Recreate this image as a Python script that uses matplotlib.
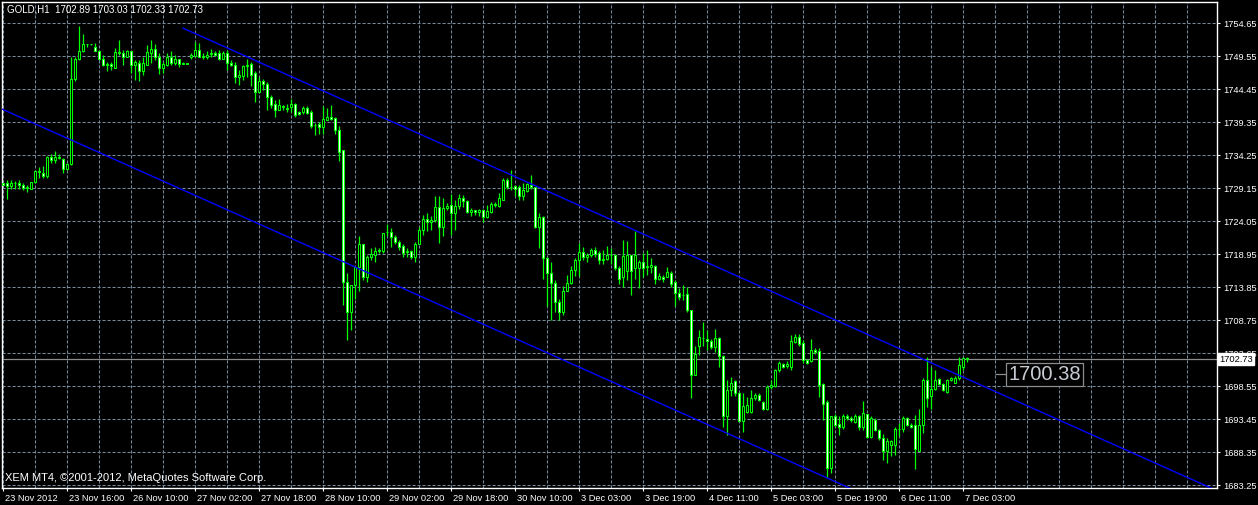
import matplotlib
matplotlib.use('Agg')
import matplotlib.pyplot as plt
from matplotlib.transforms import ScaledTranslation, blended_transform_factory

symbol = 'GOLD,H1'

opens = [1729.9, 1729.9, 1729.5, 1729.9, 1730.0, 1729.7, 1729.2, 1729.1, 1730.1, 1731.8,
         1731.5, 1731.0, 1734.0, 1733.5, 1734.0, 1733.6, 1732.1, 1732.9, 1746.0, 1749.2,
         1750.3, 1751.4, 1751.4, 1751.0, 1750.4, 1749.1, 1748.2, 1748.4, 1747.8, 1750.2,
         1750.1, 1749.5, 1750.3, 1748.2, 1748.5, 1747.3, 1748.2, 1750.1, 1750.6, 1749.5,
         1747.8, 1748.2, 1749.5, 1748.5, 1749.1, 1748.4, 1748.5, 1749.4, 1749.6, 1750.5,
         1749.5, 1749.4, 1749.9, 1750.0, 1750.0, 1749.1, 1750.1, 1748.5, 1748.2, 1746.4,
         1746.5, 1748.0, 1748.4, 1746.9, 1744.1, 1745.8, 1745.2, 1743.2, 1742.2, 1741.2,
         1741.8, 1741.6, 1741.7, 1742.2, 1740.9, 1741.0, 1741.5, 1740.9, 1738.9, 1739.1,
         1738.6, 1739.7, 1740.2, 1740.0, 1738.1, 1735.1, 1714.7, 1710.1, 1714.2, 1717.0,
         1720.5, 1715.5, 1718.6, 1718.8, 1719.4, 1719.4, 1722.4, 1722.4, 1721.6, 1720.9,
         1720.3, 1719.3, 1719.4, 1718.6, 1720.6, 1722.7, 1724.4, 1724.0, 1724.2, 1726.2,
         1723.1, 1726.1, 1726.5, 1725.3, 1726.4, 1727.6, 1727.2, 1725.5, 1725.8, 1725.5,
         1725.8, 1724.7, 1725.5, 1726.7, 1726.4, 1727.4, 1730.4, 1729.4, 1729.5, 1729.3,
         1727.9, 1728.8, 1729.6, 1729.4, 1723.1, 1724.7, 1718.3, 1716.1, 1714.5, 1711.6,
         1710.1, 1713.3, 1714.5, 1716.5, 1718.1, 1719.3, 1718.5, 1718.9, 1719.6, 1719.1,
         1718.1, 1718.2, 1718.8, 1718.9, 1716.8, 1715.4, 1716.4, 1718.8, 1716.8, 1716.8,
         1717.7, 1717.0, 1717.0, 1717.2, 1715.2, 1715.5, 1715.5, 1716.0, 1714.6, 1713.0,
         1712.6, 1712.8, 1710.4, 1700.3, 1704.7, 1706.0, 1705.8, 1705.6, 1704.6, 1706.0,
         1703.2, 1693.9, 1698.0, 1699.3, 1697.5, 1693.2, 1694.6, 1694.6, 1696.7, 1697.2,
         1696.1, 1695.0, 1698.5, 1698.6, 1701.0, 1702.0, 1701.7, 1701.6, 1705.4, 1706.1,
         1705.2, 1702.6, 1702.4, 1704.2, 1704.0, 1698.9, 1696.1, 1685.9, 1694.0, 1692.7,
         1692.2, 1693.9, 1693.6, 1693.1, 1693.9, 1692.2, 1694.3, 1690.7, 1693.4, 1691.8,
         1690.5, 1688.6, 1689.5, 1689.5, 1692.0, 1692.0, 1693.6, 1692.6, 1692.6, 1688.6,
         1692.6, 1699.5, 1697.0, 1698.1, 1699.6, 1698.9, 1697.7, 1699.5, 1699.1, 1699.8,
         1701.6, 1702.89]

highs = [1730.0, 1730.5, 1730.5, 1730.2, 1730.5, 1729.9, 1729.6, 1730.1, 1731.9, 1732.5,
         1732.6, 1734.1, 1734.5, 1734.9, 1734.5, 1733.8, 1733.0, 1749.5, 1749.5, 1754.2,
         1753.0, 1751.5, 1751.5, 1751.6, 1750.5, 1749.7, 1748.7, 1748.7, 1750.8, 1752.0,
         1750.5, 1750.5, 1750.3, 1749.0, 1749.0, 1749.5, 1751.3, 1752.1, 1751.5, 1750.0,
         1748.7, 1750.0, 1750.4, 1749.7, 1749.2, 1748.6, 1748.5, 1750.0, 1751.7, 1751.6,
         1750.0, 1750.3, 1750.6, 1750.3, 1750.5, 1750.3, 1750.5, 1749.0, 1748.6, 1747.4,
         1748.2, 1749.1, 1748.7, 1747.2, 1746.4, 1746.1, 1745.6, 1743.6, 1742.8, 1742.9,
         1742.0, 1742.2, 1742.9, 1742.3, 1741.1, 1741.8, 1741.9, 1741.2, 1739.2, 1739.4,
         1741.8, 1741.5, 1742.0, 1740.2, 1738.7, 1735.1, 1716.0, 1714.2, 1717.0, 1721.7,
         1720.5, 1718.8, 1719.9, 1720.1, 1719.9, 1722.3, 1723.7, 1723.0, 1721.9, 1721.1,
         1720.6, 1719.9, 1719.6, 1720.9, 1723.2, 1725.0, 1725.3, 1724.8, 1727.9, 1727.9,
         1727.6, 1726.8, 1728.2, 1727.3, 1728.3, 1728.1, 1727.3, 1726.1, 1725.8, 1725.9,
         1726.0, 1726.6, 1727.1, 1727.1, 1728.4, 1730.7, 1730.7, 1732.0, 1729.7, 1729.7,
         1729.9, 1729.9, 1731.2, 1729.4, 1725.3, 1724.8, 1718.5, 1717.8, 1715.0, 1712.1,
         1714.0, 1715.7, 1717.1, 1718.3, 1720.7, 1720.0, 1719.1, 1719.9, 1720.0, 1719.4,
         1719.6, 1720.2, 1719.9, 1719.0, 1717.1, 1721.2, 1721.0, 1718.8, 1722.6, 1718.1,
         1719.1, 1719.6, 1718.3, 1717.3, 1716.0, 1715.8, 1717.0, 1716.3, 1715.0, 1713.7,
         1714.2, 1713.9, 1710.4, 1704.7, 1707.3, 1708.5, 1707.3, 1705.8, 1707.4, 1706.2,
         1703.4, 1699.5, 1700.0, 1699.5, 1697.7, 1697.5, 1696.9, 1698.0, 1697.5, 1697.5,
         1696.3, 1698.7, 1699.5, 1701.2, 1702.4, 1702.2, 1702.4, 1706.5, 1706.7, 1706.7,
         1705.7, 1702.8, 1705.8, 1704.4, 1704.4, 1699.0, 1696.4, 1694.0, 1694.2, 1693.9,
         1694.2, 1694.2, 1694.0, 1694.3, 1694.1, 1696.2, 1694.3, 1693.9, 1693.6, 1692.0,
         1691.2, 1690.6, 1690.2, 1692.3, 1692.9, 1694.0, 1693.8, 1692.8, 1694.1, 1695.1,
         1699.8, 1703.0, 1701.6, 1701.1, 1699.8, 1699.0, 1699.7, 1700.0, 1700.1, 1703.0,
         1703.1, 1703.03]

lows = [1729.6, 1727.5, 1729.0, 1729.0, 1729.1, 1728.9, 1728.6, 1729.0, 1729.9, 1730.7,
        1730.7, 1730.8, 1733.0, 1733.0, 1733.6, 1731.5, 1731.9, 1732.8, 1745.8, 1749.0,
        1750.2, 1751.0, 1751.3, 1750.3, 1749.0, 1748.0, 1747.2, 1747.4, 1747.8, 1749.8,
        1748.2, 1749.4, 1746.9, 1745.9, 1745.7, 1746.7, 1748.2, 1748.5, 1749.0, 1746.8,
        1746.9, 1748.0, 1748.2, 1748.2, 1747.9, 1748.3, 1748.3, 1749.1, 1749.5, 1749.4,
        1749.1, 1749.1, 1749.5, 1749.6, 1749.0, 1749.1, 1747.4, 1748.0, 1745.4, 1745.1,
        1745.9, 1746.4, 1744.9, 1742.5, 1743.8, 1744.3, 1741.3, 1741.5, 1740.2, 1741.2,
        1741.2, 1741.0, 1741.0, 1740.2, 1740.5, 1740.7, 1740.6, 1738.4, 1737.4, 1737.6,
        1737.6, 1739.7, 1739.7, 1737.6, 1733.3, 1711.1, 1705.7, 1707.3, 1712.1, 1713.2,
        1715.0, 1714.7, 1718.1, 1717.8, 1719.1, 1719.1, 1721.7, 1720.1, 1720.6, 1719.6,
        1718.6, 1718.6, 1718.2, 1717.8, 1720.5, 1721.9, 1722.6, 1722.7, 1724.0, 1720.7,
        1721.7, 1725.8, 1722.0, 1722.7, 1726.0, 1726.3, 1725.3, 1724.8, 1725.0, 1724.8,
        1724.0, 1724.5, 1725.3, 1726.3, 1726.3, 1727.3, 1729.1, 1728.9, 1727.9, 1727.3,
        1727.3, 1728.6, 1729.1, 1723.0, 1719.9, 1715.2, 1711.0, 1708.8, 1710.1, 1708.8,
        1709.6, 1713.2, 1714.4, 1715.6, 1715.6, 1718.1, 1717.8, 1718.6, 1718.6, 1717.4,
        1717.4, 1718.1, 1717.4, 1716.5, 1714.4, 1713.9, 1715.0, 1712.6, 1715.2, 1713.8,
        1715.4, 1715.8, 1716.0, 1714.4, 1714.9, 1714.7, 1715.5, 1713.9, 1710.9, 1711.9,
        1711.9, 1710.1, 1696.7, 1700.3, 1703.4, 1704.7, 1704.2, 1704.3, 1703.9, 1701.6,
        1692.3, 1691.0, 1697.0, 1697.0, 1693.2, 1691.5, 1694.4, 1694.4, 1696.5, 1696.2,
        1694.9, 1694.9, 1698.1, 1698.5, 1700.8, 1701.4, 1701.3, 1701.1, 1705.3, 1704.7,
        1702.1, 1702.0, 1702.3, 1703.5, 1696.9, 1693.3, 1684.6, 1685.2, 1692.3, 1691.0,
        1692.0, 1693.3, 1693.1, 1692.8, 1691.8, 1691.8, 1690.5, 1690.5, 1691.6, 1690.3,
        1687.2, 1686.7, 1687.7, 1687.9, 1690.8, 1691.5, 1692.4, 1692.1, 1685.7, 1688.6,
        1691.4, 1695.4, 1695.1, 1698.0, 1698.7, 1697.8, 1697.5, 1699.4, 1699.0, 1699.5,
        1701.0, 1702.33]

closes = [1729.7, 1729.5, 1729.9, 1730.0, 1729.7, 1729.2, 1729.4, 1730.1, 1731.8, 1731.6,
          1731.0, 1734.0, 1733.5, 1734.0, 1733.8, 1732.1, 1732.9, 1746.1, 1749.2, 1750.3,
          1751.4, 1751.4, 1751.4, 1750.4, 1749.1, 1748.2, 1748.4, 1748.0, 1750.2, 1750.1,
          1749.5, 1750.4, 1748.2, 1748.6, 1747.2, 1748.5, 1750.2, 1750.6, 1749.5, 1747.7,
          1748.4, 1749.5, 1748.5, 1749.2, 1748.3, 1748.5, 1748.3, 1749.7, 1750.5, 1749.5,
          1749.6, 1749.8, 1750.0, 1749.7, 1749.1, 1750.1, 1748.5, 1748.2, 1746.4, 1746.6,
          1748.0, 1748.2, 1746.7, 1744.1, 1745.8, 1745.2, 1743.2, 1742.0, 1741.2, 1742.0,
          1741.7, 1741.4, 1742.2, 1740.4, 1740.6, 1741.5, 1740.8, 1738.8, 1738.9, 1738.6,
          1739.9, 1740.2, 1739.9, 1738.1, 1734.8, 1714.7, 1710.1, 1714.2, 1717.0, 1720.5,
          1715.5, 1718.6, 1719.0, 1719.4, 1719.6, 1722.3, 1722.4, 1721.6, 1720.9, 1720.1,
          1719.2, 1719.4, 1718.6, 1720.6, 1722.7, 1724.4, 1724.0, 1724.2, 1726.2, 1723.2,
          1726.1, 1726.4, 1725.3, 1726.4, 1727.6, 1727.2, 1725.5, 1725.8, 1725.5, 1725.8,
          1724.7, 1725.7, 1726.7, 1726.5, 1727.6, 1730.4, 1729.4, 1729.4, 1729.1, 1727.9,
          1728.9, 1729.8, 1729.3, 1723.1, 1724.7, 1718.3, 1716.1, 1714.5, 1711.5, 1710.1,
          1713.3, 1714.5, 1716.5, 1718.1, 1719.3, 1718.5, 1718.9, 1719.6, 1719.0, 1718.1,
          1718.2, 1718.8, 1718.9, 1716.8, 1715.2, 1718.7, 1718.8, 1716.4, 1718.9, 1717.7,
          1716.9, 1717.2, 1717.3, 1715.2, 1715.6, 1715.1, 1716.2, 1714.4, 1713.0, 1712.3,
          1712.7, 1710.4, 1700.3, 1703.6, 1706.1, 1706.0, 1705.6, 1704.6, 1706.0, 1703.2,
          1693.9, 1698.0, 1699.1, 1697.5, 1693.2, 1695.5, 1695.6, 1696.7, 1697.2, 1696.4,
          1695.0, 1698.5, 1698.8, 1701.1, 1702.1, 1701.6, 1702.0, 1705.6, 1706.1, 1705.1,
          1702.6, 1702.2, 1704.1, 1703.9, 1698.7, 1695.8, 1685.9, 1694.0, 1692.6, 1692.2,
          1694.0, 1693.6, 1693.4, 1694.0, 1692.2, 1694.4, 1690.7, 1693.6, 1691.8, 1690.5,
          1688.6, 1690.1, 1690.1, 1692.0, 1692.0, 1693.6, 1692.6, 1692.3, 1688.8, 1692.6,
          1699.5, 1696.8, 1698.1, 1699.5, 1698.9, 1698.0, 1699.5, 1699.9, 1699.9, 1701.8,
          1702.9, 1702.73]

time_labels = ['23 Nov 2012', '23 Nov 16:00', '26 Nov 10:00', '27 Nov 02:00', '27 Nov 18:00',
               '28 Nov 10:00', '29 Nov 02:00', '29 Nov 18:00', '30 Nov 10:00', '3 Dec 03:00',
               '3 Dec 19:00', '4 Dec 11:00', '5 Dec 03:00', '5 Dec 19:00', '6 Dec 11:00',
               '7 Dec 03:00']
label_bars = [0, 16, 32, 48, 64, 80, 96, 112, 128, 144, 160, 176, 192, 208, 224, 240]

price_ticks = [1754.65, 1749.55, 1744.45, 1739.35, 1734.25, 1729.15, 1724.05, 1718.95,
               1713.85, 1708.75, 1703.65, 1698.55, 1693.45, 1688.35, 1683.25]

# channel drawn by hand on the chart: (bar, price) end points
upper_channel = [(45, 1753.9), (305, 1682.0)]
lower_channel = [(-1, 1741.6), (215, 1681.9)]

bid_price = 1702.73
price_label = 1700.38
price_label_bar = 251.3

BG = 'black'
GRID = '#778899'
CANDLE = '#00ff00'
FONT = 'Liberation Sans'

W, H = 1258, 505
fig = plt.figure(figsize=(W / 100, H / 100), dpi=100, facecolor=BG)
ax = fig.add_axes([2 / W, 17 / H, 1215 / W, 486 / H])
ax.set_facecolor(BG)
ax.set_xlim(-0.25, 303.5)
ax.set_ylim(1682.83, 1757.94)

# grid
for p in price_ticks:
    ax.axhline(p, color=GRID, lw=0.75, dashes=(3.0, 1.8), zorder=0.5)
for b in range(0, 304, 8):
    ax.axvline(b, color=GRID, lw=0.75, dashes=(3.0, 1.8), zorder=0.5)

# bid line
ax.axhline(bid_price, color='#8c8c8c', lw=0.9, zorder=1)

# candles
xs = list(range(len(closes)))
ax.vlines(xs, lows, highs, color=CANDLE, lw=0.9, zorder=2)
bottoms = [min(o, c) for o, c in zip(opens, closes)]
heights = [abs(c - o) for o, c in zip(opens, closes)]
fills = ['white' if c < o else 'black' for o, c in zip(opens, closes)]
ax.bar(xs, heights, bottom=bottoms, width=0.68, color=fills, edgecolor=CANDLE,
       linewidth=0.75, zorder=3)

# channel lines
ax.plot([p[0] for p in upper_channel], [p[1] for p in upper_channel], color='#0000ff', lw=1.0, zorder=4)
ax.plot([p[0] for p in lower_channel], [p[1] for p in lower_channel], color='#0000ff', lw=1.0, zorder=4)

# axes styling
for s in ax.spines.values():
    s.set_color('white')
    s.set_linewidth(1.0)

ax.yaxis.tick_right()
ax.set_yticks(price_ticks)
ax.set_yticklabels(['%.2f' % p for p in price_ticks], fontfamily=FONT)
ax.tick_params(axis='y', direction='out', length=2.2, width=0.8, colors='white',
               labelsize=6.7, pad=2)

ax.set_xticks(label_bars)
ax.set_xticklabels(time_labels, ha='left', fontfamily=FONT)
ax.tick_params(axis='x', direction='out', length=2.5, width=0.8, colors='white',
               labelsize=6.7, pad=1.5)
for lbl in ax.get_xticklabels():
    lbl.set_transform(lbl.get_transform() + ScaledTranslation(2 / 100, 0, fig.dpi_scale_trans))

# current price tag on the price scale (covers the 1703.65 label as in MT4)
trans = blended_transform_factory(ax.transAxes, ax.transData)
ax.text(1.0 + 2 / 1215, bid_price, '%.2f' % bid_price, transform=trans, ha='left', va='center',
        fontsize=6.7, fontfamily=FONT, color='black', clip_on=False, zorder=10,
        bbox=dict(boxstyle='square,pad=0.15', facecolor='white', edgecolor='white'))

# price label object
ax.hlines(price_label, price_label_bar - 3.2, price_label_bar - 0.5, color='#8c8c8c', lw=0.9, zorder=5)
ax.text(price_label_bar, price_label, '%.2f' % price_label, ha='left', va='center',
        fontsize=14.5, fontfamily=FONT, color='#c8ccd4', zorder=6,
        bbox=dict(boxstyle='square,pad=0.12', facecolor='black', edgecolor='#8c8c8c', lw=0.9))

header = '%s  %.2f %.2f %.2f %.2f' % (symbol, opens[-1], highs[-1], lows[-1], closes[-1])
fig.text(7 / W, 1 - 10 / H, header, ha='left', va='center', color='white',
         fontsize=7, fontfamily=FONT)
fig.text(5 / W, 1 - 478 / H, 'XEM MT4, \u00a92001-2012, MetaQuotes Software Corp.',
         ha='left', va='center', color='white', fontsize=8, fontfamily=FONT)

fig.savefig('out.png', dpi=100, facecolor=BG)
